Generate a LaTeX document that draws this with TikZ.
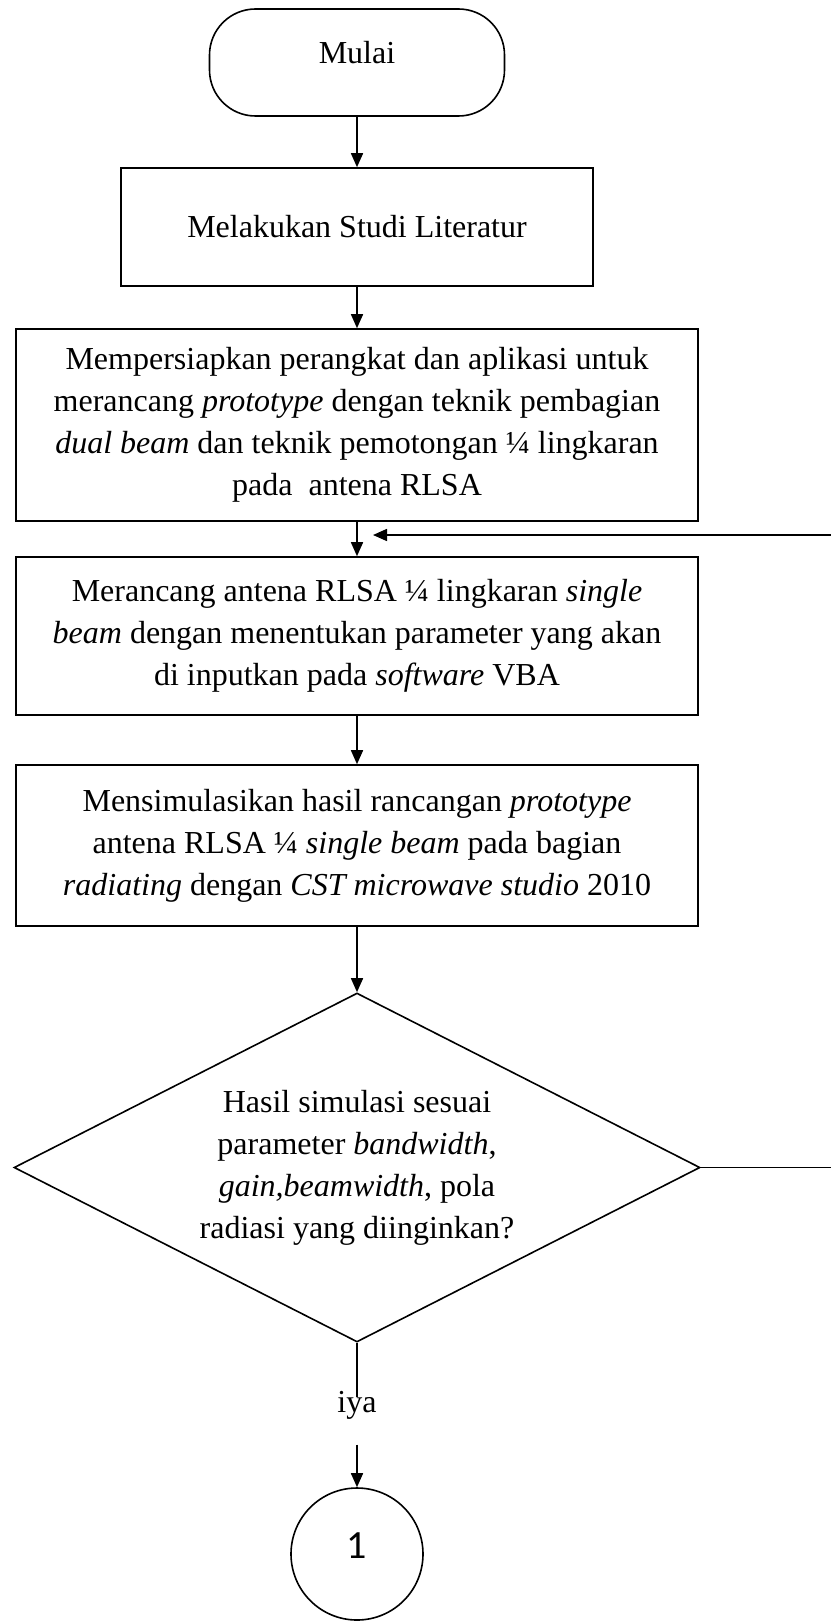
\documentclass[tikz,border=0pt]{standalone}
\usepackage{fontspec}
\setmainfont{Liberation Serif}
\newfontfamily\angkafont{Carlito}
\usetikzlibrary{arrows.meta,shapes.geometric}

\begin{document}
\begin{tikzpicture}[x=0.5pt,y=-0.5pt,line width=0.8pt,
  font=\fontsize{16}{21}\selectfont,
  panah/.style={-{Triangle[length=7pt,width=6pt]}},
  terminal/.style={draw, rectangle, rounded corners=23pt, minimum width=147.5pt, minimum height=53.5pt, text depth=10pt},
  proses/.style={draw, rectangle, align=center, inner sep=0pt, minimum width=341pt},
  keputusan/.style={draw, diamond, aspect=1.966, align=center, inner sep=0pt, minimum width=343pt, minimum height=174.5pt},
  sambung/.style={draw, circle, inner sep=0pt, minimum size=66pt, font=\angkafont\fontsize{20}{24}\selectfont, text depth=8pt}]
\useasboundingbox (0,0) rectangle (830,1621);

\node[terminal] (mulai) at (357,62.5){Mulai};
\node[proses, minimum width=236pt, minimum height=59pt] (studi) at (357,227){Melakukan Studi Literatur};

\node[proses, minimum height=96pt] (siap) at (357,425){Mempersiapkan perangkat dan aplikasi untuk\\
merancang \textit{prototype} dengan teknik pembagian\\
\textit{dual beam} dan teknik pemotongan ¼ lingkaran\\
pada\ \ antena RLSA};

\node[proses, minimum height=79pt] (rancang) at (357,636){Merancang antena RLSA ¼ lingkaran \textit{single}\\
\textit{beam} dengan menentukan parameter yang akan\\
di inputkan pada \textit{software} VBA};

\node[proses, minimum height=80.5pt] (simulasi) at (357,845.5){Mensimulasikan hasil rancangan \textit{prototype}\\
antena RLSA ¼ \textit{single beam} pada bagian\\
\textit{radiating} dengan \textit{CST microwave studio} 2010};

\node[keputusan] (cek) at (357,1167.5){Hasil simulasi sesuai\\
parameter \textit{bandwidth},\\
\textit{gain,beamwidth}, pola\\
radiasi yang diinginkan?};

\node[anchor=north, inner sep=0pt, text height=7.5pt, text depth=15.5pt] (iya) at (357,1397){iya};
\node[sambung] (satu) at (357,1554){1};

\coordinate (balik) at (373,535);

\draw[panah](mulai) -- (studi);
\draw[panah](studi) -- (siap);
\draw[panah](siap) -- (rancang);
\draw[panah](rancang) -- (simulasi);
\draw[panah](simulasi) -- (cek);
\draw[](cek) -- (iya);
\draw[panah](iya) -- (satu);

\draw[panah](cek.east) -- ++(140,0) |- (balik);

\end{tikzpicture}
\end{document}
